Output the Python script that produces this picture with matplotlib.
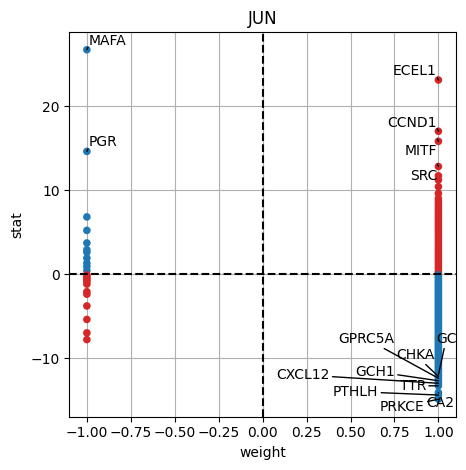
import matplotlib
matplotlib.use("Agg")
import matplotlib.pyplot as plt
import numpy as np

# JUN targets: weight (mode of regulation) and stat
neg_w_stat = [26.7, 14.6, 6.8, 5.2, 3.7, 2.9, 2.6, 1.9, 1.3, 0.9, 0.4,
              -0.1, -0.3, -0.5, -0.7, -0.9, -1.2, -2.1, -2.4, -3.8, -5.4, -7.0, -7.8]

pos_w_stat = [23.1, 17.0, 15.8, 12.8, 11.7, 11.2, 10.4, 9.6, 9.0, 8.7, 8.4, 8.1,
              7.8, 7.5, 7.2, 6.9, 6.6, 6.3, 6.0, 5.7, 5.4, 5.1, 4.8, 4.5, 4.2,
              3.9, 3.6, 3.3, 3.0, 2.7, 2.4, 2.1, 1.8, 1.5, 1.2, 0.9, 0.6, 0.3, 0.1,
              -0.1, -0.3, -0.5, -0.7, -0.9, -1.1, -1.3, -1.5, -1.7, -1.9, -2.1,
              -2.3, -2.5, -2.7, -2.9, -3.1, -3.3, -3.5, -3.7, -3.9, -4.1, -4.3,
              -4.5, -4.7, -4.9, -5.1, -5.3, -5.5, -5.7, -5.9, -6.1, -6.3, -6.5,
              -6.7, -6.9, -7.1, -7.3, -7.5, -7.7, -7.9, -8.1, -8.3, -8.5, -8.7,
              -8.9, -9.1, -9.3, -9.5, -9.7, -9.9, -10.1, -10.3, -10.5, -10.7,
              -10.9, -11.1, -11.3, -11.5, -11.7,
              -12.0, -12.2, -12.4, -12.7, -13.0, -13.3, -14.1, -14.4, -14.9]

label_names = ["MAFA", "PGR", "ECEL1", "CCND1", "MITF", "SRC",
               "GC", "CHKA", "GPRC5A", "GCH1", "CXCL12", "TTR", "CA2", "PTHLH", "PRKCE"]
label_weight = [-1, -1, 1, 1, 1, 1, 1, 1, 1, 1, 1, 1, 1, 1, 1]
label_stat = [26.7, 14.6, 23.1, 17.0, 15.8, 12.8,
              -12.0, -12.2, -12.4, -12.7, -13.0, -13.3, -14.1, -14.4, -14.9]

# text placement (data coords) and alignment
label_xy = [(-0.99, 26.9), (-0.99, 14.9), (0.99, 23.3), (0.99, 17.2), (0.99, 15.5), (0.995, 12.5),
            (1.045, -7.7), (0.87, -9.6), (0.59, -7.7), (0.64, -11.6), (0.23, -12.0),
            (0.855, -13.3), (1.01, -15.3), (0.53, -14.0), (0.795, -15.8)]
label_ha = ["left", "left", "right", "right", "right", "right",
            "center", "center", "center", "center", "center", "center", "center", "center", "center"]
label_va = ["bottom", "bottom", "bottom", "bottom", "top", "top",
            "center", "center", "center", "center", "center", "center", "center", "center", "center"]
near = [True] * 6 + [False] * 9

weight = np.array([-1.0] * len(neg_w_stat) + [1.0] * len(pos_w_stat))
stat = np.array(neg_w_stat + pos_w_stat)
colors = np.where(weight * stat > 0, "#d62728", "#1f77b4")

fig = plt.figure(figsize=(4.66, 4.70), dpi=100)
ax = fig.add_axes([0.1487, 0.1134, 0.8298, 0.8179])
ax.grid(True, zorder=0)
ax.set_axisbelow(True)
ax.scatter(weight, stat, c=colors, s=30, linewidths=0, zorder=2)
ax.axhline(0, color="black", linestyle="--", zorder=3)
ax.axvline(0, color="black", linestyle="--", zorder=3)

for name, w, s, xy, ha, va, nr in zip(label_names, label_weight, label_stat, label_xy,
                                       label_ha, label_va, near):
    ap = dict(arrowstyle="-", color="black", lw=1, shrinkA=0, shrinkB=0)
    if nr:
        # only a stub inside the dot, text sits right on the point
        ap["patchA"] = None
        ap["shrinkA"] = 0
        ax.annotate("", xy=(w, s), xytext=(w + (0.006 if w < 0 else -0.006), s + 0.3),
                    arrowprops=ap, zorder=4)
        ax.text(xy[0], xy[1], name, ha=ha, va=va, fontsize=10, zorder=4)
    else:
        ax.annotate(name, xy=(w, s), xytext=xy, ha=ha, va=va, fontsize=10, zorder=4,
                    arrowprops=ap)

ax.set_xticks([-1.0, -0.75, -0.5, -0.25, 0.0, 0.25, 0.5, 0.75, 1.0])
ax.set_title("JUN")
ax.set_xlabel("weight")
ax.set_ylabel("stat")

fig.savefig("out.png", dpi=100)
